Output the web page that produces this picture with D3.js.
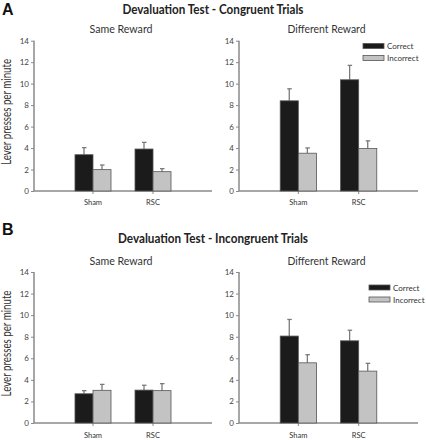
<!DOCTYPE html>
<html>
<head>
<meta charset="utf-8">
<script src="https://cdn.jsdelivr.net/npm/d3@7"></script>
<style>
body{margin:0;background:#fff;}
svg{display:block;font-family:Lato,"Open Sans",sans-serif;}
</style>
</head>
<body>
<svg id="c" width="426" height="440"></svg>
<script>
// ---- data ----
const groups = ["Sham", "RSC"];
const seriesNames = ["Correct", "Incorrect"];
const yTicks = [0, 2, 4, 6, 8, 10, 12, 14];
const figureTitles = ["Devaluation Test - Congruent Trials", "Devaluation Test - Incongruent Trials"];
const figureLetters = ["A", "B"];
const panelTitles = ["Same Reward", "Different Reward"];
const yLabel = "Lever presses per minute";

// Congruent trials (A)
const aSameCorrect = [3.38, 3.91];
const aSameCorrectSem = [0.66, 0.62];
const aSameIncorrect = [1.99, 1.80];
const aSameIncorrectSem = [0.43, 0.28];
const aDiffCorrect = [8.40, 10.36];
const aDiffCorrectSem = [1.12, 1.34];
const aDiffIncorrect = [3.52, 3.95];
const aDiffIncorrectSem = [0.49, 0.72];

// Incongruent trials (B)
const bSameCorrect = [2.71, 3.05];
const bSameCorrectSem = [0.29, 0.45];
const bSameIncorrect = [3.03, 3.00];
const bSameIncorrectSem = [0.55, 0.65];
const bDiffCorrect = [8.06, 7.62];
const bDiffCorrectSem = [1.54, 0.98];
const bDiffIncorrect = [5.58, 4.81];
const bDiffIncorrectSem = [0.75, 0.72];

// ---- layout ----
const svg = d3.select("#c");
const colors = {Correct: "#1b1b1b", Incorrect: "#c3c3c3"};
const rows = [
  {letter: figureLetters[0], title: figureTitles[0], letterY: 15, titleY: 14, subY: 33, yTop: 40.7, yBot: 191, xLabY: 205, legendX: 363, legendY: 46,
   panels: [
     {c: aSameCorrect, cs: aSameCorrectSem, i: aSameIncorrect, is: aSameIncorrectSem},
     {c: aDiffCorrect, cs: aDiffCorrectSem, i: aDiffIncorrect, is: aDiffIncorrectSem}]},
  {letter: figureLetters[1], title: figureTitles[1], letterY: 235, titleY: 242.5, subY: 264.5, yTop: 272, yBot: 423, xLabY: 438, legendX: 369, legendY: 287.5,
   panels: [
     {c: bSameCorrect, cs: bSameCorrectSem, i: bSameIncorrect, is: bSameIncorrectSem},
     {c: bDiffCorrect, cs: bDiffCorrectSem, i: bDiffIncorrect, is: bDiffIncorrectSem}]}
];
const xRanges = [[34, 212], [239, 418]];
const axisColor = "#8a8a8a";

function squeeze(sel, target) {
  const w = sel.node().getComputedTextLength();
  if (w > target) sel.attr("textLength", target).attr("lengthAdjust", "spacingAndGlyphs");
}

rows.forEach((row) => {
  svg.append("text").attr("x", 2).attr("y", row.letterY).attr("font-size", 16).attr("font-weight", "bold")
    .attr("font-family", "Liberation Sans, Arial, sans-serif").attr("fill", "#111").text(row.letter);
  const t = svg.append("text").attr("x", 213).attr("y", row.titleY).attr("text-anchor", "middle")
    .attr("font-size", 13).attr("font-weight", "bold").attr("fill", "#222").text(row.title);
  squeeze(t, row.title.length > 36 ? 190 : 181);

  const y = d3.scaleLinear().domain([0, 14]).range([row.yBot, row.yTop]);

  row.panels.forEach((p, pi) => {
    const [x0, x1] = xRanges[pi];
    const x = d3.scaleBand().domain(groups).range([x0, x1]).paddingInner(0.4).paddingOuter(0.683);
    const xs = d3.scaleBand().domain(seriesNames).range([0, x.bandwidth()]);
    const g = svg.append("g");

    const st = g.append("text").attr("x", (x0 + x1) / 2 - 2).attr("y", row.subY).attr("text-anchor", "middle")
      .attr("font-size", 11.5).attr("fill", "#333").text(panelTitles[pi]);
    squeeze(st, pi === 0 ? 63 : 78);

    // y axis
    const ya = g.append("g").attr("transform", `translate(${x0},0)`)
      .call(d3.axisLeft(y).tickValues(yTicks).tickSize(3).tickPadding(2));
    ya.select(".domain").attr("stroke", axisColor).attr("stroke-width", 1.5).attr("d", `M0,${row.yBot}V${row.yTop}`);
    ya.selectAll(".tick line").attr("stroke", axisColor);
    ya.selectAll(".tick text").attr("font-size", 8).attr("fill", "#444").attr("font-family", "Lato, sans-serif");

    // x axis
    const xa = g.append("g").attr("transform", `translate(0,${row.yBot})`)
      .call(d3.axisBottom(x).tickSize(3).tickFormat(() => ""));
    xa.select(".domain").attr("stroke", axisColor).attr("stroke-width", 1.5).attr("d", `M${x0},0H${x1}`);
    xa.selectAll(".tick line").attr("stroke", axisColor);
    g.selectAll(".xl").data(groups).enter().append("text")
      .attr("x", d => x(d) + x.bandwidth() / 2).attr("y", row.xLabY).attr("text-anchor", "middle")
      .attr("font-size", 7.5).attr("fill", "#333").text(d => d);

    const data = [];
    groups.forEach((gname, gi) => {
      data.push({g: gname, s: "Correct", v: p.c[gi], e: p.cs[gi]});
      data.push({g: gname, s: "Incorrect", v: p.i[gi], e: p.is[gi]});
    });
    // error bars
    data.forEach(d => {
      const cx = x(d.g) + xs(d.s) + xs.bandwidth() / 2;
      g.append("line").attr("x1", cx).attr("x2", cx).attr("y1", y(d.v)).attr("y2", y(d.v + d.e))
        .attr("stroke", "#7a7a7a").attr("stroke-width", 1.3);
      g.append("line").attr("x1", cx - 2).attr("x2", cx + 2.5).attr("y1", y(d.v + d.e)).attr("y2", y(d.v + d.e))
        .attr("stroke", "#7a7a7a").attr("stroke-width", 1.3);
    });
    g.selectAll(".bar").data(data).enter().append("rect")
      .attr("x", d => x(d.g) + xs(d.s)).attr("width", xs.bandwidth())
      .attr("y", d => y(d.v)).attr("height", d => y(0) - y(d.v))
      .attr("fill", d => colors[d.s]).attr("stroke", "#555").attr("stroke-width", 0.8);

    if (pi === 0) {
      const yl = svg.append("text").attr("transform", `translate(11,${(row.yTop + row.yBot) / 2 - 4}) rotate(-90)`)
        .attr("text-anchor", "middle").attr("font-size", 12.5).attr("fill", "#333").text(yLabel);
      squeeze(yl, 106);
    } else {
      const lg = svg.append("g");
      seriesNames.forEach((s, si) => {
        const ly = row.legendY + si * 12;
        lg.append("rect").attr("x", row.legendX).attr("y", ly - 2.5).attr("width", 21).attr("height", 5)
          .attr("fill", colors[s]).attr("stroke", "#555").attr("stroke-width", 0.8);
        lg.append("text").attr("x", row.legendX + 24).attr("y", ly + 3).attr("font-size", 8)
          .attr("fill", "#333").text(s);
      });
    }
  });
});
</script>
</body>
</html>
